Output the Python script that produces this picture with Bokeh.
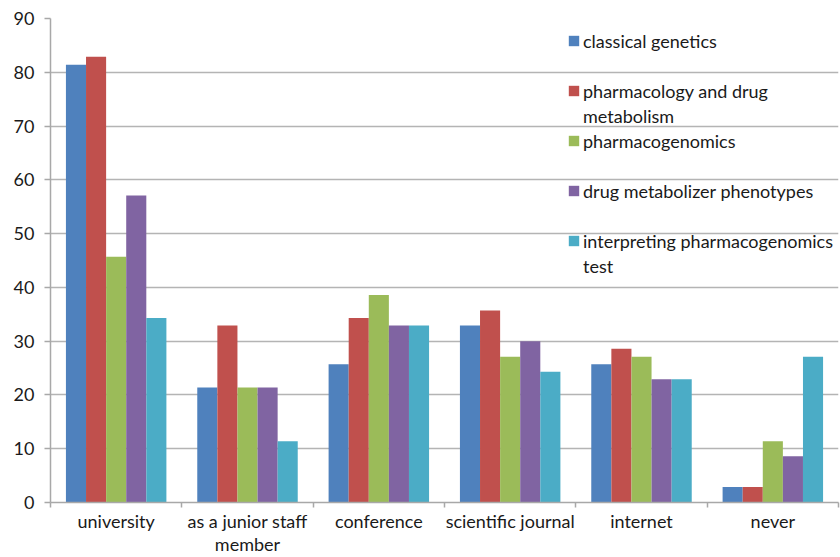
from bokeh.plotting import figure
from bokeh.models import Range1d, FixedTicker, Legend, LegendItem, ColumnDataSource
from bokeh.transform import dodge
from bokeh.embed import file_html
from bokeh.resources import INLINE

categories = ["university", "as a junior staff\nmember", "conference",
              "scientific journal", "internet", "never"]
series_names = ["classical genetics", "pharmacology and drug\nmetabolism",
                "pharmacogenomics", "drug metabolizer phenotypes",
                "interpreting pharmacogenomics\ntest"]
classical_genetics = [81.4, 21.4, 25.7, 32.9, 25.7, 2.9]
pharmacology = [82.9, 32.9, 34.3, 35.7, 28.6, 2.9]
pharmacogenomics = [45.7, 21.4, 38.6, 27.1, 27.1, 11.4]
phenotypes = [57.1, 21.4, 32.9, 30.0, 22.9, 8.6]
interpreting = [34.3, 11.4, 32.9, 24.3, 22.9, 27.1]
y_ticks = [0, 10, 20, 30, 40, 50, 60, 70, 80, 90]

colors = ["#4F81BD", "#C0504D", "#9BBB59", "#8064A2", "#4BACC6"]

xc = [i + 0.5 for i in range(len(categories))]
src = ColumnDataSource(dict(x=xc, s0=classical_genetics, s1=pharmacology,
                            s2=pharmacogenomics, s3=phenotypes, s4=interpreting))

FONT = "Lato"
TXT = "#1a1a1a"
GRAY = "#A8A8A8"
p = figure(width=840, height=557, output_backend="svg", toolbar_location=None,
           x_range=Range1d(0, len(categories)), y_range=Range1d(0, 90),
           min_border_left=50, min_border_right=2, min_border_top=18, min_border_bottom=20)
p.outline_line_color = None

bw = 0.153
renderers = []
for k in range(5):
    off = (k - 2) * bw
    r = p.vbar(x=dodge("x", off), top="s%d" % k, width=bw, source=src,
               fill_color=colors[k], line_color=None)
    renderers.append(r)

# invisible renderer used for legend continuation lines / gaps
blank = p.vbar(x=[], top=[], width=bw, fill_alpha=0, line_alpha=0)

# axes
p.xaxis.ticker = FixedTicker(ticks=xc, minor_ticks=list(range(len(categories) + 1)))
p.xaxis.major_label_overrides = {x: c for x, c in zip(xc, categories)}
p.xaxis.major_tick_line_color = None
p.xaxis.major_tick_out = 0
p.xaxis.major_tick_in = 0
p.xaxis.minor_tick_line_color = GRAY
p.xaxis.minor_tick_line_width = 1.5
p.xaxis.minor_tick_out = 5
p.xaxis.minor_tick_in = 0
p.xaxis.major_label_standoff = 2
p.xaxis.major_label_text_line_height = 1.05
p.xaxis.axis_line_color = GRAY
p.xaxis.axis_line_width = 1.5

p.yaxis.ticker = FixedTicker(ticks=y_ticks)
p.yaxis.minor_tick_line_color = None
p.yaxis.major_tick_line_color = GRAY
p.yaxis.major_tick_line_width = 1.5
p.yaxis.major_tick_out = 6
p.yaxis.major_tick_in = 0
p.yaxis.major_label_standoff = 10
p.yaxis.axis_line_color = GRAY
p.yaxis.axis_line_width = 1.5

for ax in (p.xaxis, p.yaxis):
    ax.major_label_text_font = FONT
    ax.major_label_text_font_size = "18px"
    ax.major_label_text_color = TXT

p.xgrid.grid_line_color = None
p.ygrid.ticker = FixedTicker(ticks=y_ticks)
p.ygrid.grid_line_color = "#B4B4B4"
p.ygrid.grid_line_width = 1.5

# legend rows: wrapped labels continue on an extra row without a swatch
rows = []
for name, r in zip(series_names, renderers):
    lines = name.split("\n")
    rows.append((lines[0], r))
    for extra in lines[1:]:
        rows.append((extra, blank))
    if len(lines) == 1 and name != series_names[-1]:
        rows.append((" ", blank))

legend = Legend(items=[LegendItem(label=t, renderers=[r]) for t, r in rows],
                location=(517, 224), border_line_color=None, background_fill_alpha=0,
                glyph_width=13, glyph_height=13, label_standoff=3, padding=0,
                spacing=0, label_height=25, label_text_font=FONT,
                label_text_font_size="18px", label_text_color=TXT)
p.add_layout(legend)

open("out.html", "w").write(file_html(p, INLINE))
